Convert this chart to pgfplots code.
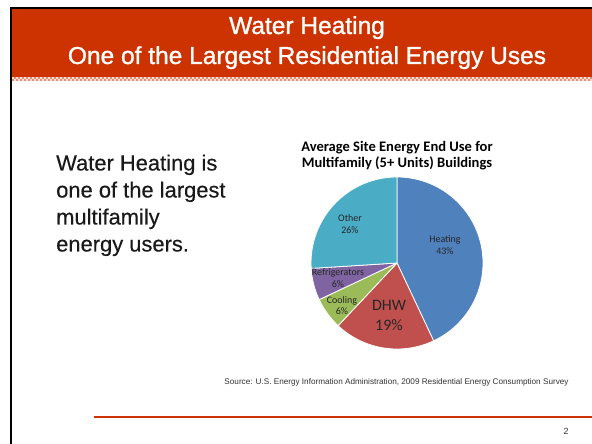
\documentclass[border=0pt]{standalone}
\usepackage{pgfplots}
\pgfplotsset{compat=1.18}
\usepackage{pgfplotstable}
\usepackage{fontspec}
\setmainfont{Liberation Sans}
\newfontfamily\titlefont[FakeBold=1.1]{Liberation Sans}
\newfontfamily\bodyfont[FakeBold=0.3]{Liberation Sans}
\newfontfamily\carlito{Carlito}
\definecolor{barred}{HTML}{CC3300}
\definecolor{cHeat}{HTML}{4F81BD}
\definecolor{cDHW}{HTML}{C0504D}
\definecolor{cCool}{HTML}{9BBB59}
\definecolor{cRef}{HTML}{8064A2}
\definecolor{cOther}{HTML}{4BACC6}
\pgfplotstableread{
label pct
Heating 43
DHW 19
Cooling 6
Refrigerators 6
Other 26
}\piedata
\begin{document}%
\def\cum{90}%
\foreach \i in {0,...,4}{%
  \pgfplotstablegetelem{\i}{pct}\of\piedata
  \pgfmathsetmacro\tmpb{\cum-3.6*\pgfplotsretval}%
  \expandafter\xdef\csname pieS\i\endcsname{\cum}%
  \expandafter\xdef\csname pieE\i\endcsname{\tmpb}%
  \xdef\cum{\tmpb}%
}%
\newcommand\pieslice[2]{%
  \fill[#2, draw=white, line width=0.8bp, line join=round]
    (axis cs:0,0) -- +(\csname pieS#1\endcsname:86bp)
    arc[start angle=\csname pieS#1\endcsname, end angle=\csname pieE#1\endcsname, radius=86bp] -- cycle;}%
\begin{tikzpicture}[x=1bp,y=1bp]
\useasboundingbox (0,0) rectangle (592,-444);
\fill[white] (0,0) rectangle (592,-444);
\coordinate (piecenter) at (397,-263);
% title bar
\fill[barred] (12,-9) rectangle (592,-77);
\fill[barred!55!white] (12,-77) rectangle (592,-81);
\draw[barred!15!white, line width=2bp, dash pattern=on 2bp off 2bp] (12,-78) -- (592,-78);
\draw[barred!15!white, line width=2bp, dash pattern=on 2bp off 2bp, dash phase=2bp] (12,-80) -- (592,-80);
\draw[black, line width=2bp] (10,-8) -- (592,-8);
\draw[black, line width=2.5bp] (11,-7) -- (11,-444);
\node[white, anchor=base, inner sep=0, font=\titlefont\fontsize{24.6}{28}\selectfont] at (307,-34) {Water Heating};
\node[white, anchor=base, inner sep=0, font=\titlefont\fontsize{24.6}{28}\selectfont] at (307,-64) {One of the Largest Residential Energy Uses};
% left text
\begin{scope}[every node/.style={anchor=base west, inner sep=0, font=\bodyfont\fontsize{22}{26}\selectfont, text=black!90}]
\node at (56,-170.5) {Water Heating is};
\node at (56,-197.5) {one of the largest};
\node at (56,-224.5) {multifamily};
\node at (56,-251.5) {energy users.};
\end{scope}
% chart title
\node[anchor=base, inner sep=0, font=\carlito\bfseries\fontsize{14.6}{17}\selectfont] at (397,-151.5) {Average Site Energy End Use for};
\node[anchor=base, inner sep=0, font=\carlito\bfseries\fontsize{14.6}{17}\selectfont] at (397,-168) {Multifamily (5+ Units) Buildings};
% pie
\begin{axis}[at={(piecenter)}, anchor=center, scale only axis, width=172bp, height=172bp,
  xmin=-1, xmax=1, ymin=-1, ymax=1, hide axis, clip=false]
\pieslice{0}{cHeat}
\pieslice{1}{cDHW}
\pieslice{2}{cCool}
\pieslice{3}{cRef}
\pieslice{4}{cOther}
\begin{scope}[every node/.style={align=center, inner sep=0, text=black!85, font=\carlito\fontsize{10}{11.8}\selectfont}]
\node at (axis cs:0.558,0.21) {Heating\\43\%};
\node at (axis cs:-0.547,0.453) {Other\\26\%};
\node at (axis cs:-0.686,-0.18) {Refrigerators\\6\%};
\node at (axis cs:-0.64,-0.494) {Cooling\\6\%};
\node[font=\carlito\fontsize{16}{20}\selectfont] at (axis cs:-0.093,-0.605) {DHW\\19\%};
\end{scope}
\end{axis}
% source
\node[anchor=base, inner sep=0, font=\fontsize{8.2}{9}\selectfont, text=black!80] at (396.5,-384) {Source: U.S. Energy Information Administration, 2009 Residential Energy Consumption Survey};
\draw[barred, line width=2bp] (94,-416.7) -- (592,-416.7);
\node[anchor=base, inner sep=0, font=\fontsize{9}{10}\selectfont, text=black!80] at (566,-434) {2};
\end{tikzpicture}%
\end{document}
